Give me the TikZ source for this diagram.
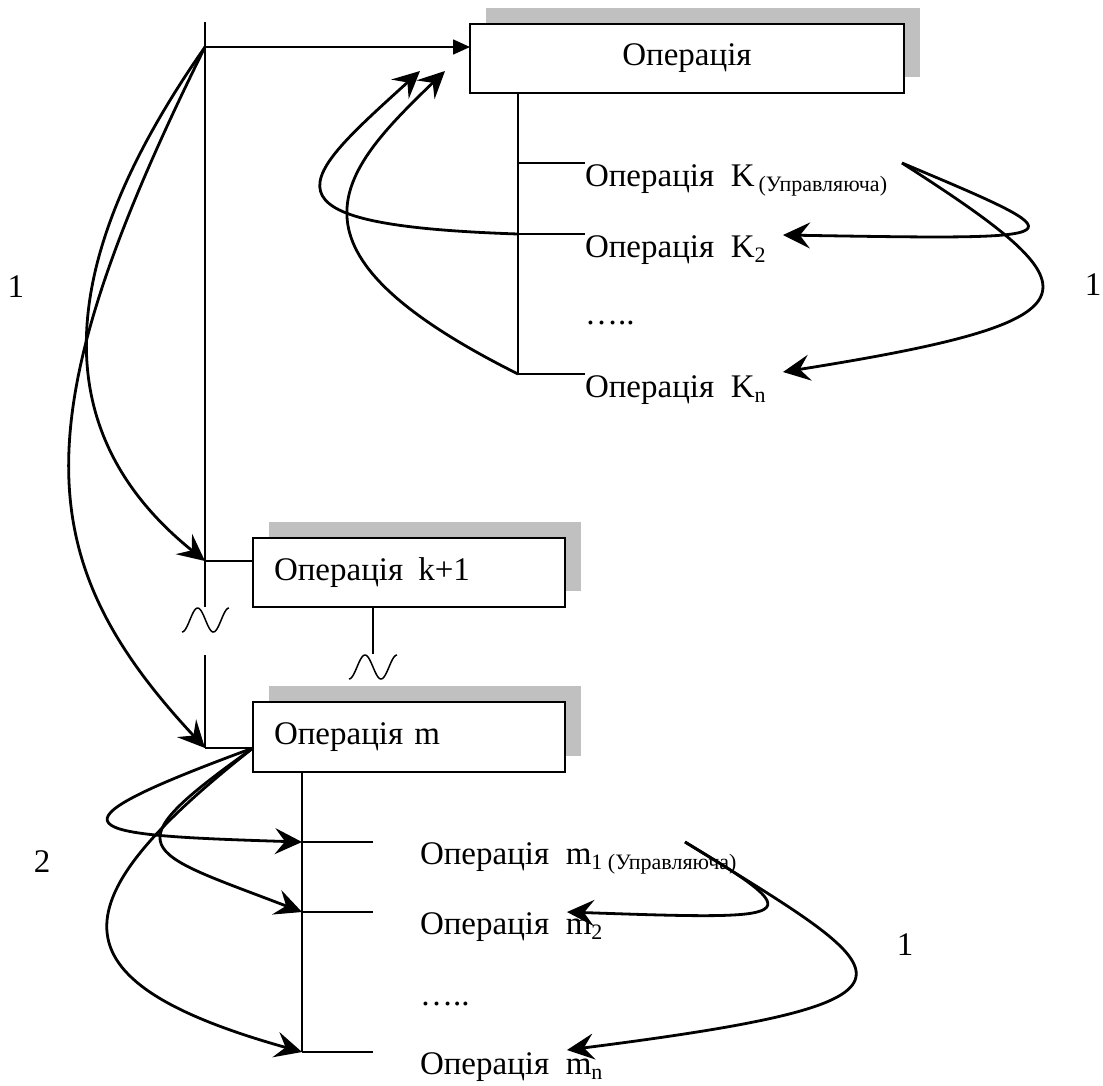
\documentclass[tikz,border=0pt]{standalone}
\usepackage{fontspec}
\setmainfont{Liberation Serif}
\usetikzlibrary{arrows.meta,shadows}

\definecolor{shade}{RGB}{192,192,192}
% lowered small index text
\newcommand{\lowsub}[1]{\raisebox{-5pt}{\fontsize{22}{22}\selectfont #1}}

\begin{document}
\begin{tikzpicture}[x=1pt,y=-1pt,
  every node/.style={inner sep=0pt, outer sep=0pt, font=\fontsize{33}{37}\selectfont},
  opbox/.style={draw, line width=2pt, fill=white,
    general shadow={fill=shade, shadow xshift=16pt, shadow yshift=16pt}},
  wire/.style={line width=1.5pt},
  flow/.style={line width=2.8pt, -{Stealth[length=27pt,width=26pt,inset=10pt]}},
  feed/.style={line width=1.6pt, -{Triangle[length=17pt,width=15pt]}},
  oplabel/.style={anchor=base west},
]
\useasboundingbox (0,0) rectangle (1103,1085);

% boxes
\node[opbox, anchor=north west, minimum width=434pt, minimum height=69pt] (op) at (470,24) {Операція};
\node[opbox, anchor=north west, text width=270pt, inner xsep=21pt, minimum height=69pt, align=left] (opk) at (253,538) {Операція\hspace{15pt}k+1};
\node[opbox, anchor=north west, text width=270pt, inner xsep=21pt, minimum height=70pt, align=left] (opm) at (253,702) {Операція m};

% junction points
\coordinate (top) at (205,22);
\coordinate (jA) at (205,47);
\coordinate (gapTop) at (205,607);
\coordinate (gapBot) at (205,655);
\coordinate (jK) at (205,561);
\coordinate (jM) at (205,748);
\coordinate (mS) at (opm.west |- jM);

\coordinate (jK1) at (518,163);
\coordinate (jK2) at (518,234);
\coordinate (jKn) at (518,374);
\coordinate (jm1) at (302,842);
\coordinate (jm2) at (302,912);
\coordinate (jmn) at (302,1052);
\coordinate (em1) at (373,842);
\coordinate (em2) at (373,912);
\coordinate (emn) at (373,1052);
\coordinate (kLow) at (373,654);

% free ends of the arrows
\coordinate (tipA) at (420,71);
\coordinate (tipB) at (445,71);
\coordinate (k1s) at (902,163);
\coordinate (tipK2) at (783,235);
\coordinate (tipKn) at (783,372);
\coordinate (m1s) at (685,842);
\coordinate (tipM2) at (567,912);
\coordinate (tipMn) at (567,1050);

% texts
\node[oplabel] (k1) at (585,186) {Операція\ \ K\hspace{4pt}\lowsub{(Управляюча)}};
\node[oplabel] (k2) at (585,257) {Операція\ \ K\lowsub{2}};
\node[oplabel] (kdots) at (585,324) {…..};
\node[oplabel] (kn) at (585,397) {Операція\ \ K\lowsub{n}};

\node[oplabel] (m1) at (420,864) {Операція\ \ m\lowsub{1 (Управляюча)}};
\node[oplabel] (m2) at (420,934) {Операція\ \ m\lowsub{2}};
\node[oplabel] (mdots) at (420,1005) {…..};
\node[oplabel] (mn) at (420,1074) {Операція\ \ m\lowsub{n}};

\node (n1l) at (16,287) {1};
\node (n1r) at (1093,285) {1};
\node (n2) at (42,862) {2};
\node (n1b) at (905,945) {1};

% main trunk
\draw[wire] (top) -- (gapTop);
\draw[wire] (gapBot) -- (jM);
\draw[wire] plot[domain=-90:450, samples=60, variable=\t] ({182+(\t+90)/540*47}, {620-12*sin(\t)});
\draw[feed] (jA) -- (op.west |- jA);
\draw[wire] (jK) -- (opk.west |- jK);
\draw[wire] (jM) -- (mS);

% branch below the first box
\draw[wire] (op.south -| jKn) -- (jKn);
\draw[wire] (jK1) -- (jK1 -| k1.west);
\draw[wire] (jK2) -- (jK2 -| k2.west);
\draw[wire] (jKn) -- (jKn -| kn.west);

% link between k+1 and m
\draw[wire] (opk.south -| kLow) -- (kLow);
\draw[wire] plot[domain=-90:450, samples=60, variable=\t] ({349+(\t+90)/540*48}, {667-12*sin(\t)});

% branch below box m
\draw[wire] (opm.south -| jm1) -- (jmn);
\draw[wire] (jm1) -- (em1);
\draw[wire] (jm2) -- (em2);
\draw[wire] (jmn) -- (emn);

% transfer arrows
\draw[flow] (jA) .. controls (70,240) and (30,420) .. (jK);
\draw[flow] (jA) .. controls (20,420) and (30,560) .. (jM);

\draw[flow] (jK2) .. controls (246,225) and (300,180) .. (tipA);
\draw[flow] (jKn) .. controls (270,250) and (338,174) .. (tipB);

\draw[flow] (k1s) .. controls (1085,240) and (1085,240) .. (tipK2);
\draw[flow] (k1s) .. controls (1100,290) and (1110,320) .. (tipKn);

\draw[flow] (mS) .. controls (30,830) and (80,835) .. (jm1);
\draw[flow] (mS) .. controls (110,850) and (140,850) .. (jm2);
\draw[flow] (mS) .. controls (60,900) and (45,980) .. (jmn);

\draw[flow] (m1s) .. controls (815,920) and (800,920) .. (tipM2);
\draw[flow] (m1s) .. controls (900,975) and (960,1000) .. (tipMn);
\end{tikzpicture}
\end{document}
